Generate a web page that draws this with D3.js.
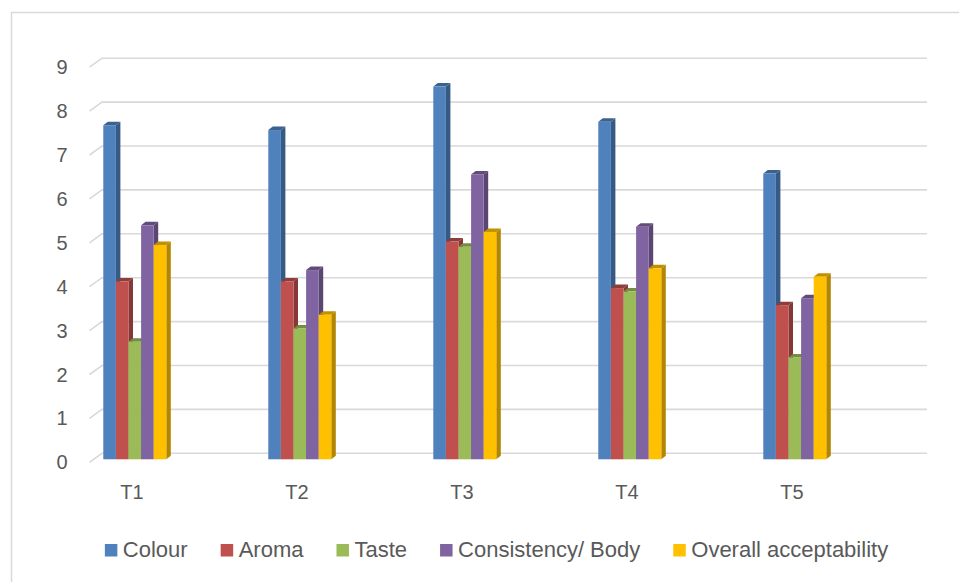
<!DOCTYPE html>
<html>
<head>
<meta charset="utf-8">
<script src="https://cdn.jsdelivr.net/npm/d3@7"></script>
<style>
  html, body { margin: 0; padding: 0; background: #ffffff; }
  svg { display: block; }
  text { font-family: "Liberation Sans", Arial, sans-serif; fill: #595959; }
</style>
</head>
<body>
<svg id="chart" width="959" height="582"></svg>
<script>
// ---- Data ----
const categories = ["T1", "T2", "T3", "T4", "T5"];
const seriesNames = ["Colour", "Aroma", "Taste", "Consistency/ Body", "Overall acceptability"];
const colour = [7.61, 7.50, 8.49, 7.69, 6.51];
const aroma = [4.05, 4.05, 4.96, 3.90, 3.51];
const taste = [2.68, 2.98, 4.84, 3.82, 2.32];
const consistency = [5.33, 4.31, 6.49, 5.30, 3.67];
const overall = [4.88, 3.29, 5.18, 4.35, 4.16];
const yTicks = [0, 1, 2, 3, 4, 5, 6, 7, 8, 9];
const seriesColors = ["#4f81bd", "#c0504d", "#9bbb59", "#8064a2", "#ffc000"];

const seriesValues = [colour, aroma, taste, consistency, overall];

// ---- Layout ----
const svg = d3.select("#chart");
const depthX = 12.5, depthY = 9;     // wall depth (axis front -> back wall)
const barDX = 4.5, barDY = 3.5;      // bar depth
const backOffset = 6;                // bar front baseline -> back wall baseline

const x = d3.scaleBand().domain(categories).range([102, 927]);
const xs = d3.scaleBand().domain(seriesNames).range([1.3, 64.3]);
const y = d3.scaleLinear().domain([0, 9]).range([459.3, 64.2]);

// chart border
svg.append("rect")
  .attr("x", 11.5).attr("y", 12.5)
  .attr("width", 1000).attr("height", 1000)
  .attr("fill", "none").attr("stroke", "#d9d9d9").attr("stroke-width", 1.5);

// gridlines (back wall + side wall)
const grid = svg.append("g");
yTicks.forEach(t => {
  const yb = y(t) - backOffset;
  grid.append("path")
    .attr("d", `M${x.range()[0] - depthX},${yb + depthY} L${x.range()[0]},${yb} L${x.range()[1]},${yb}`)
    .attr("fill", "none").attr("stroke", "#d9d9d9").attr("stroke-width", 1.6);
});

// y tick labels
svg.append("g").selectAll("text").data(yTicks).join("text")
  .attr("x", 62).attr("y", d => y(d) - backOffset + depthY)
  .attr("dy", "0.35em")
  .attr("text-anchor", "middle")
  .style("font-size", "20px")
  .text(d => d);

// category labels
svg.append("g").selectAll("text").data(categories).join("text")
  .attr("x", d => x(d) + 30).attr("y", 499.3)
  .attr("text-anchor", "middle")
  .style("font-size", "20px")
  .text(d => d);

// bars
const bw = xs.bandwidth();
const bars = svg.append("g");
categories.forEach((c, ci) => {
  seriesNames.forEach((s, si) => {
    const v = seriesValues[si][ci];
    const x0 = x(c) + xs(s);
    const y0 = y(v), yb = y(0);
    const base = d3.color(seriesColors[si]);
    const g = bars.append("g");
    // side face
    g.append("path")
      .attr("d", `M${x0 + bw},${y0} L${x0 + bw + barDX},${y0 - barDY} L${x0 + bw + barDX},${yb - barDY} L${x0 + bw},${yb} Z`)
      .attr("fill", base.darker(1.0).formatHex());
    // top face
    g.append("path")
      .attr("d", `M${x0},${y0} L${x0 + barDX},${y0 - barDY} L${x0 + bw + barDX},${y0 - barDY} L${x0 + bw},${y0} Z`)
      .attr("fill", base.darker(0.8).formatHex());
    // front face
    g.append("rect")
      .attr("x", x0).attr("y", y0)
      .attr("width", bw).attr("height", yb - y0)
      .attr("fill", seriesColors[si]);
  });
});

// legend
const legend = svg.append("g");
let lx = 0;
seriesNames.forEach((s, i) => {
  const g = legend.append("g");
  g.append("rect").attr("x", 0).attr("y", 544).attr("width", 12.5).attr("height", 12.5)
    .attr("fill", seriesColors[i]);
  const t = g.append("text").attr("x", 18).attr("y", 556.5)
    .style("font-size", "22px").text(s);
  const w = t.node().getComputedTextLength();
  g.attr("transform", `translate(${lx},0)`);
  lx += 18 + w + 33;
});
const totalW = lx - 33;
legend.attr("transform", `translate(${496.5 - totalW / 2},0)`);
</script>
</body>
</html>
